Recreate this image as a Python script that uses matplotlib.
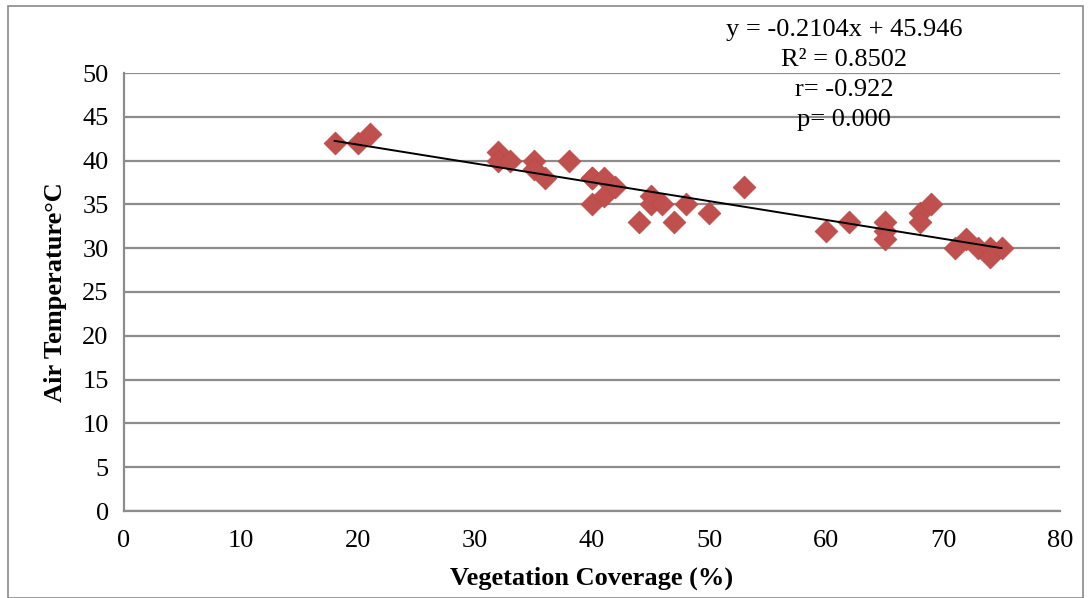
import numpy as np
import matplotlib
matplotlib.use("Agg")
import matplotlib.pyplot as plt
from matplotlib.patches import Rectangle

plt.rcParams['font.family'] = ['Liberation Serif', 'DejaVu Serif']

vegetation = [18, 20, 21, 32, 32, 33, 35, 35, 36, 38, 40, 40, 40, 41, 41, 42,
              45, 45, 46, 44, 47, 48, 50, 53, 60, 62, 65, 65, 65, 68, 68, 69,
              71, 72, 73, 74, 74, 75]
air_temp = [42, 42, 43, 41, 40, 40, 40, 39, 38, 40, 38, 35, 38, 38, 36, 37,
            36, 35, 35, 33, 33, 35, 34, 37, 32, 33, 33, 32, 31, 34, 33, 35,
            30, 31, 30, 30, 29, 30]
x_ticks = [0, 10, 20, 30, 40, 50, 60, 70, 80]
y_ticks = [0, 5, 10, 15, 20, 25, 30, 35, 40, 45, 50]
annotation = ["y = -0.2104x + 45.946", "R² = 0.8502", "r= -0.922", "p= 0.000"]

fig = plt.figure(figsize=(10.91, 5.98), dpi=100)
fig.patches.append(Rectangle((8/1091, 0), 1 - 16/1091, 1 - 6/598, transform=fig.transFigure,
                             fill=False, edgecolor='#8a8a8a', linewidth=1.2))
ax = fig.add_axes([124/1091, 1 - 511/598, (1060-124)/1091, (511-73)/598])

ax.set_xlim(0, 80)
ax.set_ylim(0, 50)
ax.set_xticks(x_ticks)
ax.set_yticks(y_ticks)
ax.yaxis.grid(True, color='#8c8c8c', linewidth=1.6)
ax.set_axisbelow(True)
for s in ['top', 'right']:
    ax.spines[s].set_visible(False)
for s in ['left', 'bottom']:
    ax.spines[s].set_color('#8c8c8c')
    ax.spines[s].set_linewidth(1.6)
ax.tick_params(axis='x', length=0, pad=14, labelsize=19)
ax.tick_params(axis='y', length=0, pad=11, labelsize=19)

ax.scatter(vegetation, air_temp, marker='D', s=135, color='#c0504d',
           edgecolors='#b84a47', linewidths=0.5, zorder=3)

coef = np.polyfit(vegetation, air_temp, 1)
xs = np.array([min(vegetation), max(vegetation)])
ax.plot(xs, np.polyval(coef, xs), color='black', linewidth=1.4, zorder=4)

for i, line in enumerate(annotation):
    fig.text(844/1091, 1 - (30 + 30*i)/598, line, ha='center', va='center', fontsize=19)

ax.set_xlabel("Vegetation Coverage (%)", fontsize=19, fontweight='bold', labelpad=10)
ax.set_ylabel("Air Temperature°C", fontsize=19, fontweight='bold', labelpad=11)

fig.savefig("out.png", dpi=100)
